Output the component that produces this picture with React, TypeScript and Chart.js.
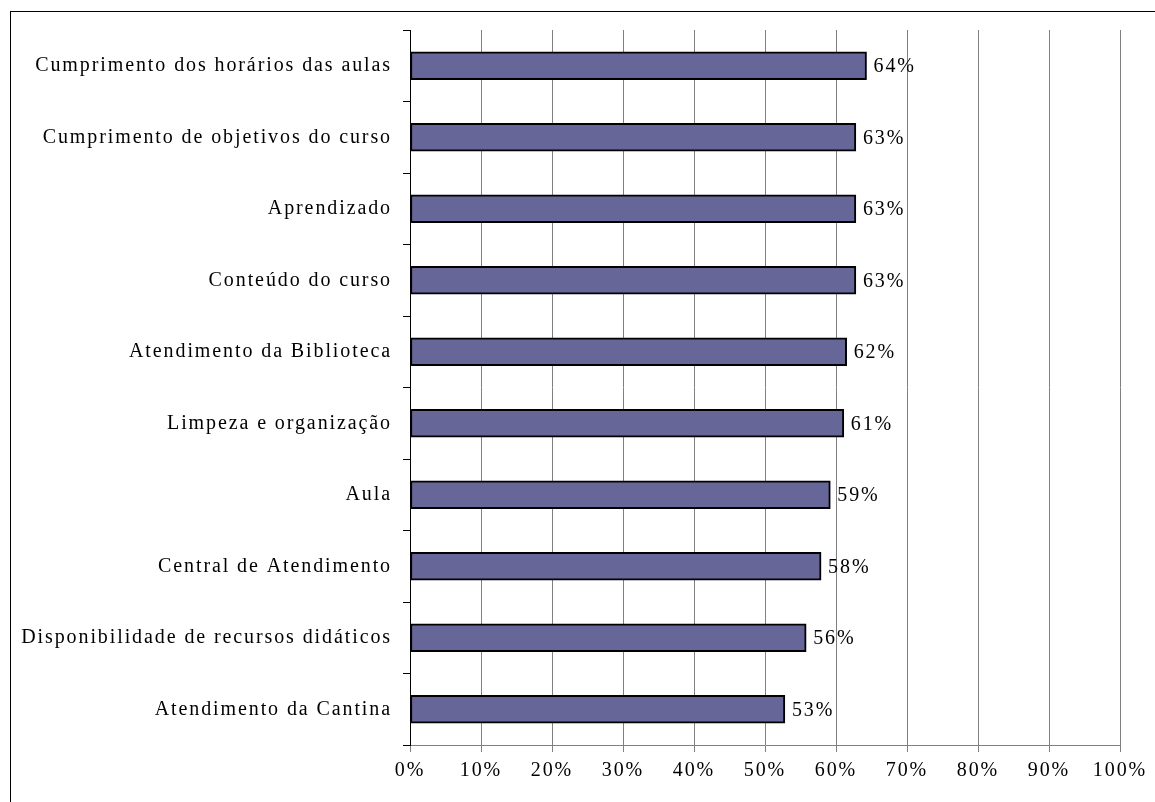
import React, { useEffect, useRef } from "react";
import { Chart, registerables } from "chart.js";

Chart.register(...registerables);

const categories: string[] = [
  "Cumprimento dos horários das aulas",
  "Cumprimento de objetivos do curso",
  "Aprendizado",
  "Conteúdo do curso",
  "Atendimento da Biblioteca",
  "Limpeza e organização",
  "Aula",
  "Central de Atendimento",
  "Disponibilidade de recursos didáticos",
  "Atendimento da Cantina",
];

const values: number[] = [64.3, 62.8, 62.8, 62.8, 61.5, 61.1, 59.2, 57.9, 55.8, 52.8];

const xTicks: number[] = [0, 10, 20, 30, 40, 50, 60, 70, 80, 90, 100];

const FONT = "'Liberation Serif', 'Times New Roman', serif";
const SIZE = 20;
const SPACING = "1.9px";

const frame = {
  id: "frame",
  beforeDraw(chart: any) {
    const ctx = chart.ctx;
    ctx.letterSpacing = SPACING;
    ctx.save();
    ctx.strokeStyle = "#000";
    ctx.lineWidth = 1;
    ctx.strokeRect(10.5, 11.5, 1300, 1000);
    ctx.restore();
  },
  afterDraw(chart: any) {
    chart.ctx.letterSpacing = "0px";
  },
};

const barLabels = {
  id: "barLabels",
  afterDatasetsDraw(chart: any) {
    const ctx = chart.ctx;
    const meta = chart.getDatasetMeta(0);
    ctx.save();
    ctx.letterSpacing = SPACING;
    ctx.font = `${SIZE}px ${FONT}`;
    ctx.fillStyle = "#000";
    ctx.textAlign = "left";
    ctx.textBaseline = "middle";
    meta.data.forEach((bar: any, i: number) => {
      ctx.fillText(Math.round(values[i]) + "%", bar.x + 7, bar.y + 1);
    });
    ctx.restore();
  },
};

export default function App() {
  const ref = useRef<HTMLCanvasElement | null>(null);
  useEffect(() => {
    if (!ref.current) return;
    const chart = new Chart(ref.current, {
      type: "bar",
      data: {
        labels: categories,
        datasets: [
          {
            data: values,
            backgroundColor: "#666699",
            borderColor: "#000",
            borderWidth: 2,
            borderSkipped: false,
            barThickness: 28,
          },
        ],
      },
      options: {
        indexAxis: "y",
        responsive: false,
        animation: false,
        layout: { padding: { top: 30, right: 35, left: 0, bottom: 0 } },
        plugins: { legend: { display: false }, tooltip: { enabled: false } },
        scales: {
          x: {
            min: 0,
            max: 100,
            afterBuildTicks: (s: any) => {
              s.ticks = xTicks.map((v) => ({ value: v }));
            },
            afterFit: (s: any) => {
              s.height = 57;
            },
            ticks: {
              callback: (v: any) => v + "%",
              color: "#000",
              font: { family: FONT, size: SIZE },
              padding: 7,
              maxRotation: 0,
            },
            grid: { color: "#808080", lineWidth: 1, tickLength: 7, drawTicks: true },
            border: { color: "#808080", width: 1 },
          },
          y: {
            afterFit: (s: any) => {
              s.width = 410;
            },
            ticks: {
              color: "#000",
              font: { family: FONT, size: SIZE },
              padding: 11,
            },
            grid: { drawOnChartArea: false, drawTicks: true, tickLength: 7, color: "#000", offset: true },
            border: { color: "#000", width: 1 },
          },
        },
      },
      plugins: [frame, barLabels],
    });
    return () => chart.destroy();
  }, []);
  return (
    <div style={{ position: "fixed", left: 0, top: 0, width: 1155, height: 802, background: "#fff" }}>
      <canvas ref={ref} width={1155} height={802} style={{ display: "block" }} />
    </div>
  );
}
